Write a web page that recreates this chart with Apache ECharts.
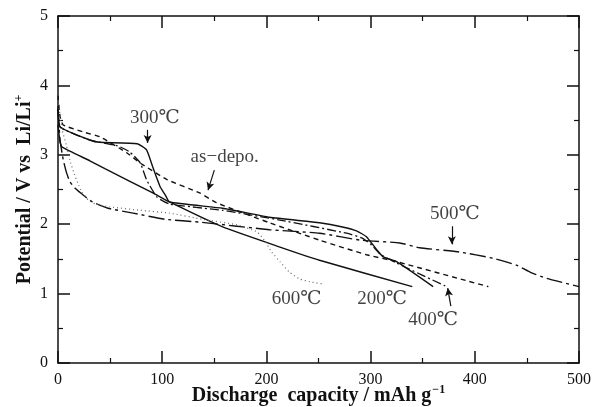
<!DOCTYPE html>
<html>
<head>
<meta charset="utf-8">
<script src="https://cdn.jsdelivr.net/npm/echarts@6/dist/echarts.min.js"></script>
<style>
  html, body { margin: 0; padding: 0; background: #fff; }
  #chart { width: 594px; height: 407px; }
</style>
</head>
<body>
<div id="chart"></div>
<script>
// Discharge curves: [capacity (mAh/g), potential (V vs Li/Li+)]
const asDepo = [[0,3.85],[2,3.55],[5,3.43],[24,3.33],[40,3.26],[66,3.03],[79,2.88],[105,2.64],[136,2.45],[152,2.31],[203,2.02],[251,1.77],[296,1.56],[325,1.46],[413,1.10]];
const c200 = [[0,3.43],[2,3.18],[4,3.11],[31,2.91],[45,2.80],[91,2.45],[107,2.32],[158,1.96],[213,1.67],[251,1.48],[340,1.10]];
const c300 = [[0,3.67],[2,3.40],[31,3.21],[40,3.18],[76,3.16],[85,3.07],[91,2.82],[98,2.54],[103,2.42],[107,2.32],[158,2.23],[203,2.10],[251,2.02],[273,1.96],[287,1.90],[296,1.82],[306,1.63],[312,1.53],[325,1.46],[360,1.10]];
const c400 = [[0,3.70],[2,3.40],[31,3.21],[57,3.13],[69,3.04],[79,2.88],[85,2.64],[95,2.39],[107,2.29],[158,2.20],[213,2.06],[277,1.87],[292,1.80],[301,1.70],[309,1.57],[325,1.44],[373,1.10]];
const c500 = [[0,3.65],[2,3.21],[5,2.93],[8,2.75],[11.5,2.61],[17,2.51],[25,2.41],[33,2.32],[48,2.23],[72,2.16],[103,2.07],[136,2.03],[203,1.92],[251,1.87],[290,1.77],[328,1.73],[347,1.66],[385,1.60],[417,1.51],[440,1.41],[453,1.31],[469,1.22],[500,1.10]];
const c600 = [[0,3.79],[4,3.36],[8,3.14],[11.5,2.92],[15,2.75],[19,2.59],[23,2.46],[29,2.35],[36,2.29],[50,2.25],[79,2.20],[107,2.16],[139,2.07],[172,1.99],[191,1.89],[198,1.77],[205,1.60],[213,1.46],[222,1.31],[232,1.21],[242,1.17],[254,1.14]];

// Curve labels: [capacity, potential, text]
const curveLabels = [
  [93, 3.53, '300℃'],
  [160, 2.97, 'as\u2212depo.'],
  [381, 2.15, '500℃'],
  [229, 0.92, '600℃'],
  [311, 0.92, '200℃'],
  [360, 0.62, '400℃']
];
// Pointer arrows: [[from], [to]]
const pointers = [
  [[86, 3.36], [86, 3.17]],
  [[150, 2.78], [144, 2.49]],
  [[378, 1.97], [378, 1.71]],
  [[377, 0.82], [374, 1.08]]
];

const xTicks = [0, 100, 200, 300, 400, 500];
const yTicks = [0, 1, 2, 3, 4, 5];

const serif = '"Liberation Serif", "DejaVu Serif", serif';
const black = '#111';

function frameAxis(extra) {
  return Object.assign({
    axisLine: { show: true, onZero: false, lineStyle: { color: black, width: 1.5 } },
    axisTick: { show: true, inside: true, length: 12, lineStyle: { color: black, width: 1.5 } },
    minorTick: { show: true, splitNumber: 2, length: 5, lineStyle: { color: black, width: 1.2 } },
    splitLine: { show: false },
    axisLabel: { show: false }
  }, extra);
}

function curve(data, type, color, width) {
  return {
    type: 'line', data: data, showSymbol: false, symbol: 'none', smooth: 0.15,
    lineStyle: { color: color, width: width, type: type },
    z: 3, silent: true
  };
}

const chart = echarts.init(document.getElementById('chart'), null, { renderer: 'canvas' });

chart.setOption({
  animation: false,
  backgroundColor: '#fff',
  grid: { left: 58, right: 15, top: 16, bottom: 44, containLabel: false, outerBoundsMode: 'none' },
  xAxis: [
    frameAxis({
      type: 'value', min: xTicks[0], max: xTicks[xTicks.length - 1], interval: 100, position: 'bottom',
      axisLabel: { show: true, color: black, fontFamily: serif, fontSize: 16, margin: 9 },
      name: '{b|Discharge  capacity / mAh g}{s|\u22121}',
      nameLocation: 'middle', nameGap: 21, nameMoveOverlap: false,
      nameTextStyle: {
        rich: {
          b: { fontFamily: serif, fontWeight: 'bold', fontSize: 20, color: black },
          s: { fontFamily: serif, fontWeight: 'bold', fontSize: 12, color: black, padding: [0, 0, 12, 1] }
        }
      }
    }),
    frameAxis({ type: 'value', min: 0, max: 500, interval: 100, position: 'top' })
  ],
  yAxis: [
    frameAxis({
      type: 'value', min: yTicks[0], max: yTicks[yTicks.length - 1], interval: 1, position: 'left',
      axisLabel: { show: true, color: black, fontFamily: serif, fontSize: 16, margin: 10 },
      name: '{b|Potential / V vs  Li/Li}{s|+}',
      nameLocation: 'middle', nameGap: 21, nameRotate: 90, nameMoveOverlap: false,
      nameTextStyle: {
        rich: {
          b: { fontFamily: serif, fontWeight: 'bold', fontSize: 20, color: black },
          s: { fontFamily: serif, fontWeight: 'bold', fontSize: 12, color: black, padding: [0, 0, 12, 0] }
        }
      }
    }),
    frameAxis({ type: 'value', min: 0, max: 5, interval: 1, position: 'right' })
  ],
  series: [
    curve(asDepo, [5, 4], black, 1.4),
    curve(c200, 'solid', black, 1.4),
    curve(c300, 'solid', black, 1.4),
    curve(c400, [9, 3, 2, 3], black, 1.3),
    curve(c500, [16, 4, 3, 4], black, 1.4),
    curve(c600, [1, 3], '#666', 1.2),
    {
      type: 'scatter', data: curveLabels.map(d => [d[0], d[1], d[2]]),
      symbolSize: 0, silent: true, z: 5,
      label: {
        show: true, position: 'inside', formatter: p => p.data[2],
        fontFamily: serif, fontSize: 19, color: black
      }
    },
    {
      type: 'line', data: [], silent: true,
      markLine: {
        silent: true, animation: false,
        symbol: ['none', 'arrow'], symbolSize: [6, 8],
        label: { show: false },
        lineStyle: { color: black, width: 1.2, type: 'solid' },
        data: pointers.map(p => [{ coord: p[0] }, { coord: p[1] }])
      }
    }
  ]
});
</script>
</body>
</html>
